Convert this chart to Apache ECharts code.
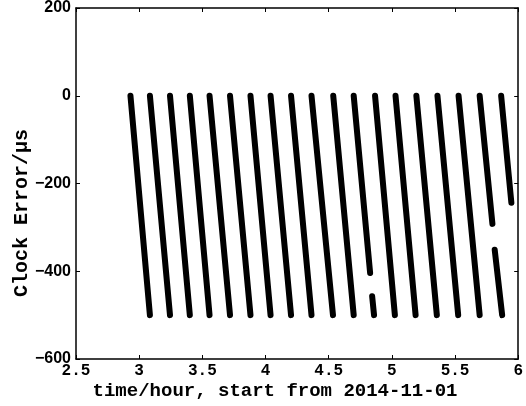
<!DOCTYPE html>
<html>
<head>
<meta charset="utf-8">
<script src="https://cdn.jsdelivr.net/npm/echarts@6/dist/echarts.min.js"></script>
<style>
    html, body {margin: 0; padding: 0; background: #fff;}
    #chart {width: 526px; height: 406px;}
</style>
</head>
<body>
<div id="chart"></div>
<script>
// each ramp: clock error drifts from 0 down to -500 us, then resets
const rampStartHours = [2.931, 3.085, 3.244, 3.401, 3.557, 3.719, 3.881, 4.040, 4.202, 4.364,
    4.536, 4.698, 4.867, 5.029, 5.194, 5.361, 5.528, 5.695, 5.865];
const rampEndHours = [3.085, 3.244, 3.401, 3.557, 3.719, 3.881, 4.040, 4.202, 4.364, 4.534,
    4.698, 4.859, 5.024, 5.188, 5.356, 5.525, 5.695, 5.873, 5.946];
const rampStartValue = 0;
const rampEndValues = [-500, -500, -500, -500, -500, -500, -500, -500, -500, -500,
    -500, -500, -500, -500, -500, -500, -500, -500, -244];
// missing samples inside a ramp: [ramp index, last x, last y, next x, next y]
const gaps = [
    [11, 4.828, -404, 4.844, -457],
    [17, 5.796, -292, 5.814, -351]
];
const xTicks = {min: 2.5, max: 6, interval: 0.5};
const yTicks = {min: -600, max: 200, interval: 200};

let chart = echarts.init(document.getElementById('chart'));

let segments = [];
rampStartHours.forEach(function(start, i) {
    let gap = gaps.find(function(g) {
        return g[0] === i;
    });
    if (gap) {
        segments.push([[start, rampStartValue], [gap[1], gap[2]]]);
        segments.push([[gap[3], gap[4]], [rampEndHours[i], rampEndValues[i]]]);
    } else {
        segments.push([[start, rampStartValue], [rampEndHours[i], rampEndValues[i]]]);
    }
});

let series = segments.map(function(seg) {
    return {
        type: 'line',
        data: seg,
        showSymbol: false,
        symbol: 'none',
        silent: true,
        animation: false,
        lineStyle: {color: '#000', width: 6, cap: 'round'}
    };
});

let frameAxis = {
    axisLine: {show: true, onZero: false, lineStyle: {color: '#000', width: 1.5}},
    axisTick: {show: true, inside: true, length: 4, lineStyle: {color: '#000', width: 1}},
    splitLine: {show: false}
};

let option = {
    animation: false,
    grid: {left: 76, right: 3, top: 6.5, bottom: 47},
    xAxis: [
        Object.assign({}, frameAxis, {
            type: 'value', position: 'bottom',
            min: xTicks.min, max: xTicks.max, interval: xTicks.interval,
            axisLabel: {
                color: '#000', fontFamily: 'Liberation Mono', fontWeight: 'bold', fontSize: 16,
                margin: 4,
                formatter: function(v) { return String(v); }
            }
        }),
        Object.assign({}, frameAxis, {
            type: 'value', position: 'top',
            min: xTicks.min, max: xTicks.max, interval: xTicks.interval,
            axisLabel: {show: false}
        })
    ],
    yAxis: [
        Object.assign({}, frameAxis, {
            type: 'value', position: 'left',
            min: yTicks.min, max: yTicks.max, interval: yTicks.interval,
            axisLabel: {
                color: '#000', fontFamily: 'Liberation Sans', fontWeight: 'bold', fontSize: 16,
                margin: 5,
                formatter: function(v) { return v < 0 ? '\u2212' + Math.abs(v) : String(v); }
            }
        }),
        Object.assign({}, frameAxis, {
            type: 'value', position: 'right',
            min: yTicks.min, max: yTicks.max, interval: yTicks.interval,
            axisLabel: {show: false}
        })
    ],
    graphic: [
        {
            type: 'text', x: 275, y: 391,
            style: {
                text: 'time/hour, start from 2014-11-01',
                fill: '#000', font: 'bold 19px "Liberation Mono"',
                align: 'center', verticalAlign: 'middle'
            }
        },
        {
            type: 'text', x: 22, y: 213, rotation: Math.PI / 2,
            style: {
                text: 'Clock Error/\u03bcs',
                fill: '#000', font: 'bold 20px "Liberation Mono"',
                align: 'center', verticalAlign: 'middle'
            }
        }
    ],
    series: series
};
chart.setOption(option);
</script>
</body>
</html>
